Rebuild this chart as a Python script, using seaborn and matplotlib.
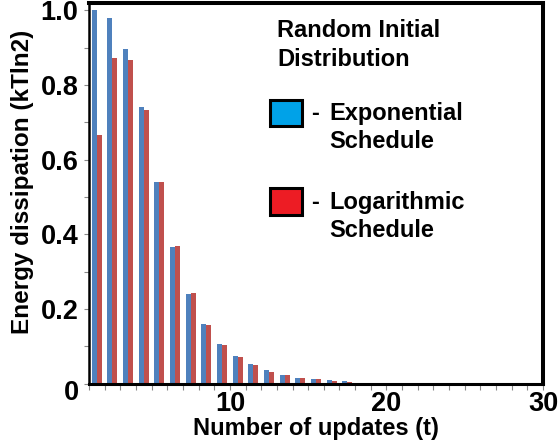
import matplotlib
matplotlib.use("Agg")
import matplotlib.pyplot as plt
import seaborn as sns
import pandas as pd
from matplotlib.patches import Rectangle
from matplotlib.transforms import ScaledTranslation
from matplotlib.ticker import FixedLocator, FixedFormatter, MultipleLocator

# ---- data ----
updates = list(range(1, 18))
exponential = [1.0, 0.979, 0.898, 0.741, 0.540, 0.366, 0.241, 0.160, 0.107,
               0.073, 0.052, 0.035, 0.024, 0.016, 0.012, 0.009, 0.006]
logarithmic = [0.666, 0.872, 0.866, 0.733, 0.540, 0.369, 0.243, 0.158, 0.104,
               0.070, 0.049, 0.032, 0.023, 0.015, 0.011, 0.008, 0.005]
series_names = ["Exponential", "Logarithmic"]
x_tick_labels = ["10", "20", "30"]
y_tick_values = [0, 0.2, 0.4, 0.6, 0.8, 1.0]
y_tick_labels = ["0", "0.2", "0.4", "0.6", "0.8", "1.0"]

df = pd.DataFrame({
    "t": updates * 2,
    "E": exponential + logarithmic,
    "schedule": [series_names[0]] * len(updates) + [series_names[1]] * len(updates),
})

sns.set_theme(style="white")
plt.rcParams["font.family"] = ["Liberation Sans", "DejaVu Sans"]
plt.rcParams["font.weight"] = "bold"
plt.rcParams["text.color"] = "black"
plt.rcParams["axes.labelcolor"] = "black"
plt.rcParams["xtick.labelcolor"] = "black"
plt.rcParams["ytick.labelcolor"] = "black"

W, H = 559, 446
fig = plt.figure(figsize=(W / 100, H / 100), dpi=100)
ax = fig.add_axes([89 / W, 1 - 383.5 / H, (543 - 89) / W, (383.5 - 3) / H])

sns.barplot(data=df, x="t", y="E", hue="schedule", hue_order=series_names,
            palette=["#4F81BD", "#C0504D"], saturation=1, width=0.64,
            linewidth=0, legend=False, ax=ax)

ax.set_xlim(-0.5, 28.5)
ax.set_ylim(0, 1.02)

# spines
for side, lw in [("left", 1.8), ("top", 2.9), ("right", 2.9), ("bottom", 2.2)]:
    ax.spines[side].set_visible(True)
    ax.spines[side].set_color("black")
    ax.spines[side].set_linewidth(lw)

# x ticks
ax.xaxis.set_major_locator(FixedLocator([8.5, 18.5, 28.5]))
ax.xaxis.set_major_formatter(FixedFormatter(x_tick_labels))
ax.xaxis.set_minor_locator(MultipleLocator(1, offset=0.5))
ax.tick_params(axis="x", which="both", direction="out", length=4.5, width=0.8,
               color="#888888", bottom=True, labelsize=19.5, pad=1,
               labelcolor="black")
# y ticks
ax.yaxis.set_major_locator(FixedLocator(y_tick_values))
ax.yaxis.set_major_formatter(FixedFormatter(y_tick_labels))
ax.yaxis.set_minor_locator(MultipleLocator(0.1))
ax.tick_params(axis="y", which="both", direction="out", length=3.5, width=0.8,
               color="#888888", left=True, labelsize=19.5, pad=4,
               labelcolor="black")
for lab in ax.get_xticklabels() + ax.get_yticklabels():
    lab.set_fontweight("bold")

# the "0" label sits a little lower than its tick in the reference
zero_lab = ax.yaxis.get_major_ticks()[0].label1
zero_lab.set_transform(zero_lab.get_transform() + ScaledTranslation(0, -0.07, fig.dpi_scale_trans))

ax.set_xlabel("Number of updates (t)", fontsize=17, fontweight="bold", labelpad=0,
              color="black")
ax.set_ylabel("Energy dissipation (kTln2)", fontsize=17.5, fontweight="bold",
              color="black")
ax.yaxis.set_label_coords((23 - 89) / (543 - 89), (383.5 - 181.5) / (383.5 - 3))
ax.yaxis.label.set_verticalalignment("center")

# legend-like annotations (figure pixel coordinates)
def fx(x):
    return x / W

def fy(y):
    return 1 - y / H

fs = 17
fig.text(fx(277), fy(37), "Random Initial", fontsize=fs, fontweight="bold", va="baseline")
fig.text(fx(277), fy(66), "Distribution", fontsize=fs, fontweight="bold", va="baseline")

for (y0, y1, color, word, base1) in [(100, 126, "#00A2E8", "Exponential", 120),
                                     (188, 215, "#ED1C24", "Logarithmic", 209)]:
    fig.add_artist(Rectangle((fx(270), fy(y1)), fx(302) - fx(270), fy(y0) - fy(y1),
                             transform=fig.transFigure, facecolor=color,
                             edgecolor="black", linewidth=2.2))
    fig.text(fx(311), fy(base1), "-", fontsize=fs, fontweight="bold", va="baseline")
    fig.text(fx(329), fy(base1), word, fontsize=fs, fontweight="bold", va="baseline")
    fig.text(fx(329), fy(base1 + 28), "Schedule", fontsize=fs, fontweight="bold", va="baseline")

fig.savefig("out.png", dpi=100)
